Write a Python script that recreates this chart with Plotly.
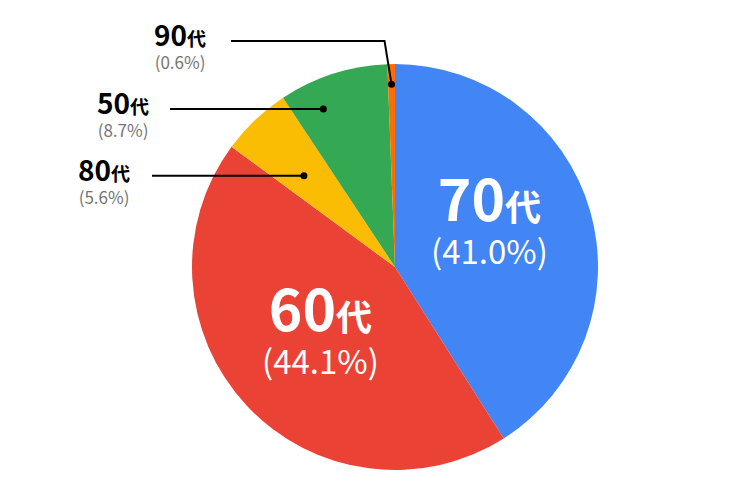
import math
import plotly.graph_objects as go

# ---- data ----
labels = ["70代", "60代", "80代", "50代", "90代"]
values = [41.0, 44.1, 5.6, 8.7, 0.6]
pct_text = ["(41.0%)", "(44.1%)", "(5.6%)", "(8.7%)", "(0.6%)"]
colors = ["#4285F4", "#EA4335", "#FBBC04", "#34A853", "#FF6D01"]

# ---- layout constants ----
W, H = 750, 500
OFF = 8  # page body margin
CX, CY, R = 395, 267, 203
FONT = "Noto Sans CJK JP"

# inside labels: (position fraction within slice, radius fraction)
inside = {"70代": (0.46, 0.505), "60代": (0.494, 0.51)}
# outside labels: (fraction in slice, radius fraction, label centre x, line start x, line y or None)
outside = {
    "80代": (0.43, 0.635, 104, 152, None),
    "50代": (0.29, 0.855, 123, 170, None),
    "90代": (0.5, 0.90, 180, 231, 41),
}


def px(x):
    return (x - OFF) / W


def py(y):
    return 1 - (y - OFF) / H


def polar(angle_deg, rf):
    a = math.radians(angle_deg)
    return CX + math.sin(a) * R * rf, CY - math.cos(a) * R * rf


total = sum(values)
starts, cum = [], 0.0
for v in values:
    starts.append(cum / total * 360)
    cum += v

fig = go.Figure(
    go.Pie(
        labels=labels,
        values=values,
        sort=False,
        direction="clockwise",
        rotation=0,
        marker=dict(colors=colors, line=dict(width=0)),
        textinfo="none",
        hoverinfo="label+percent",
        showlegend=False,
        domain=dict(x=[px(CX - R), px(CX + R)], y=[py(CY + R), py(CY - R)]),
    )
)

annotations, shapes = [], []
for i, name in enumerate(labels):
    span = values[i] / total * 360
    digits, kanji = name[:-1], name[-1]
    if name in inside:
        frac, rf = inside[name]
        x, y = polar(starts[i] + frac * span, rf)
        annotations.append(dict(
            x=px(x), y=py(y - 14), xref="paper", yref="paper", showarrow=False,
            xanchor="center", yanchor="middle", align="center",
            text=(f"<span style='font-size:57px'><b>{digits}</b></span>"
                  f"<span style='font-size:36px'><b>{kanji}</b></span><br>"
                  f"<span style='font-size:33px'>{pct_text[i]}</span>"),
            font=dict(family=FONT, size=33, color="white"),
        ))
    else:
        frac, rf, lcx, lx0, ly = outside[name]
        dx, dy = polar(starts[i] + frac * span, rf)
        line_y = dy if ly is None else ly
        if ly is None:
            path = f"M {px(lx0)},{py(line_y)} L {px(dx)},{py(dy)}"
        else:
            path = (f"M {px(lx0)},{py(line_y)} L {px(dx - 7)},{py(line_y)} "
                    f"L {px(dx)},{py(dy)}")
        shapes.append(dict(type="path", path=path, xref="paper", yref="paper",
                           line=dict(color="black", width=2)))
        shapes.append(dict(type="circle", xref="paper", yref="paper",
                           x0=px(dx - 3.5), x1=px(dx + 3.5), y0=py(dy + 3.5), y1=py(dy - 3.5),
                           fillcolor="black", line=dict(width=0)))
        annotations.append(dict(
            x=px(lcx), y=py(line_y + 3), xref="paper", yref="paper", showarrow=False,
            xanchor="center", yanchor="middle", align="center",
            text=(f"<span style='font-size:28px'><b>{digits}</b></span>"
                  f"<span style='font-size:19px'><b>{kanji}</b></span><br>"
                  f"<span style='font-size:17px;color:#757575'>{pct_text[i]}</span>"),
            font=dict(family=FONT, size=17.5, color="black"),
        ))

fig.update_layout(
    width=W, height=H,
    margin=dict(l=0, r=0, t=0, b=0),
    paper_bgcolor="white", plot_bgcolor="white",
    annotations=annotations, shapes=shapes,
)

fig.write_html("out.html")
